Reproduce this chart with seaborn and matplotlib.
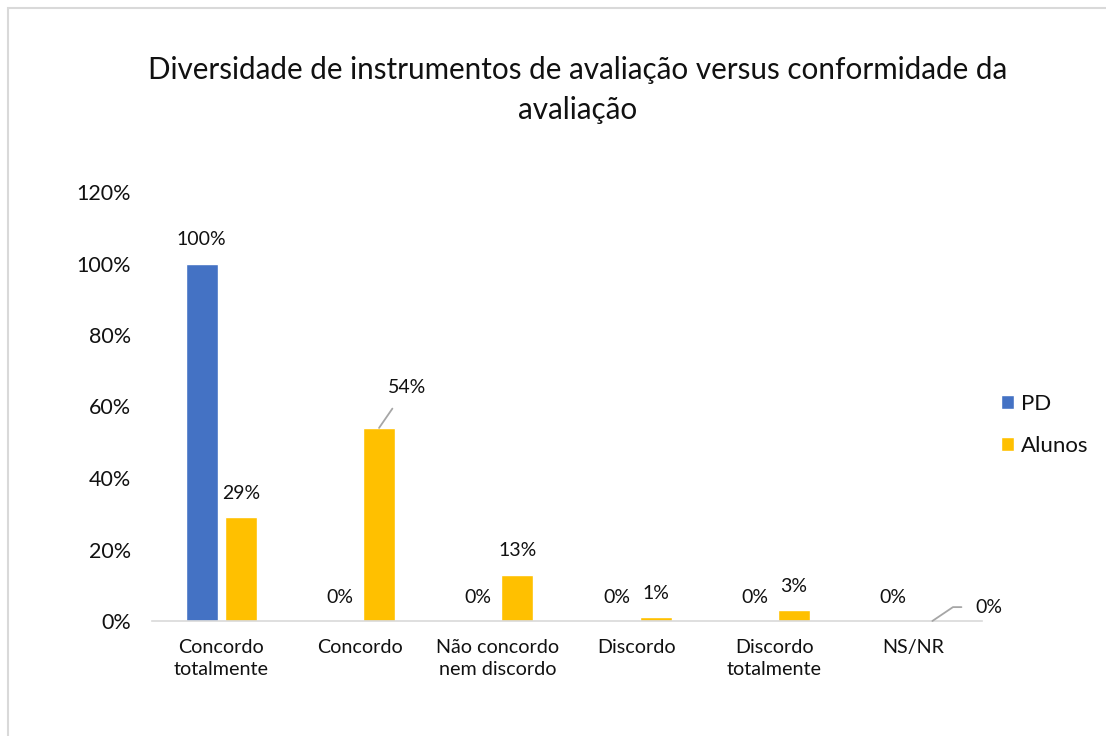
import matplotlib
matplotlib.use('Agg')
import matplotlib.pyplot as plt
import pandas as pd
import seaborn as sns
from matplotlib.patches import Rectangle

categories = ['Concordo\ntotalmente', 'Concordo', 'Não concordo\nnem discordo',
              'Discordo', 'Discordo\ntotalmente', 'NS/NR']
pd_values = [1.00, 0.00, 0.00, 0.00, 0.00, 0.00]
alunos_values = [0.29, 0.54, 0.13, 0.01, 0.03, 0.00]
pd_labels = ['100%', '0%', '0%', '0%', '0%', '0%']
alunos_labels = ['29%', '54%', '13%', '1%', '3%', '0%']
series = ['PD', 'Alunos']
colors = ['#4472C4', '#FFC000']
y_ticks = [0, 0.2, 0.4, 0.6, 0.8, 1.0, 1.2]
y_tick_labels = ['0%', '20%', '40%', '60%', '80%', '100%', '120%']

df = pd.DataFrame({
    'cat': categories * 2,
    'val': pd_values + alunos_values,
    'serie': ['PD'] * 6 + ['Alunos'] * 6,
})

sns.set_style('white')
plt.rcParams['font.family'] = ['Lato', 'DejaVu Sans']
plt.rcParams['text.color'] = '#111111'

fig = plt.figure(figsize=(11.06, 7.36), dpi=100)
ax = fig.add_axes([152 / 1106, 1 - 621 / 736, 830 / 1106, 429 / 736])

sns.barplot(data=df, x='cat', y='val', hue='serie', hue_order=series,
            palette=colors, width=0.565, gap=0.18, saturation=1, ax=ax)

ax.set_ylim(0, 1.2)
ax.set_yticks(y_ticks)
ax.set_yticklabels(y_tick_labels)
ax.set_xlabel('')
ax.set_ylabel('')
ax.tick_params(axis='y', length=0, labelsize=15.5, colors='#111111', pad=15)
ax.tick_params(axis='x', length=0, labelsize=14.2, colors='#111111', pad=13)
for lab in ax.get_xticklabels():
    lab.set_linespacing(1.35)
for s in ['top', 'right', 'left']:
    ax.spines[s].set_visible(False)
ax.spines['bottom'].set_color('#d9d9d9')
ax.spines['bottom'].set_linewidth(1.2)

# data labels
all_labels = [pd_labels, alunos_labels]
for k, cont in enumerate(ax.containers):
    for i, bar in enumerate(cont.patches):
        x = bar.get_x() + bar.get_width() / 2
        h = bar.get_height()
        txt = all_labels[k][i]
        if k == 1 and i == 1:
            ax.annotate(txt, xy=(x, h), xytext=(20, 29), textcoords='offset points',
                        ha='center', va='center', fontsize=14,
                        arrowprops=dict(arrowstyle='-', color='#a6a6a6', lw=1.3,
                                        shrinkA=8, shrinkB=0))
        elif k == 1 and i == 5:
            ax.annotate(txt, xy=(x, h), xytext=(41, 10), textcoords='offset points',
                        ha='center', va='center', fontsize=14,
                        arrowprops=dict(arrowstyle='-', color='#a6a6a6', lw=1.3,
                                        shrinkA=8, shrinkB=0, relpos=(0, 0.5),
                                        connectionstyle='angle,angleA=0,angleB=34,rad=0'))
        else:
            ax.annotate(txt, xy=(x, h), xytext=(0, 17), textcoords='offset points',
                        ha='center', va='center', fontsize=14)

leg = ax.legend(loc='center left', bbox_to_anchor=(1.023, 0.457), frameon=False,
                fontsize=16, handlelength=0.6, handleheight=0.6, handletextpad=0.3,
                labelspacing=1.0, borderaxespad=0, borderpad=0)

fig.text(578 / 1106, 1 - 70 / 736, 'Diversidade de instrumentos de avaliação versus conformidade da',
         ha='center', va='center', fontsize=21.3)
fig.text(578 / 1106, 1 - 110 / 736, 'avaliação', ha='center', va='center', fontsize=21.3)

fig.patches.append(Rectangle((8 / 1106, -0.05), 1.2, 1 - 8 / 736 + 0.05,
                             transform=fig.transFigure, fill=False,
                             edgecolor='#d9d9d9', lw=1.5))

fig.savefig('out.png', dpi=100)
